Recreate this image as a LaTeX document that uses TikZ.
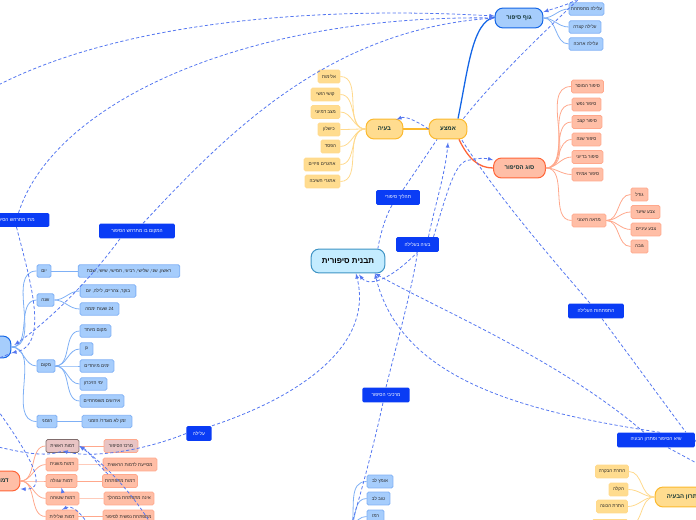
\documentclass[tikz,border=0pt]{standalone}
\usepackage{fontspec}
\usepackage{tikz}
\usetikzlibrary{positioning}
\TeXXeTstate=1
\newfontfamily\hebfont[Script=Hebrew]{Liberation Sans}
\newcommand{\heb}[1]{{\hebfont\beginR #1\endR}}
\definecolor{dashblue}{HTML}{5577F0}
\definecolor{labelblue}{HTML}{0A3CF5}
\definecolor{bluefill}{HTML}{A6CDFC}
\definecolor{blueline}{HTML}{1466E6}
\definecolor{bluesub}{HTML}{7FB0F5}
\definecolor{yelfill}{HTML}{FFDC8F}
\definecolor{yelline}{HTML}{FBB92E}
\definecolor{yelsub}{HTML}{FFD98C}
\definecolor{salfill}{HTML}{FFBEA6}
\definecolor{salline}{HTML}{FF6538}
\definecolor{salsub}{HTML}{FFA88C}
\definecolor{maufill}{HTML}{E8C4C4}
\definecolor{cenfill}{HTML}{C4ECFF}
\definecolor{cenline}{HTML}{3D93C4}
\definecolor{inkdark}{HTML}{123434}
\tikzstyle{box}=[rectangle, inner sep=0pt, font=\fontsize{4.6}{5}\selectfont, text=black!85]
\tikzstyle{main}=[box, rounded corners=8pt, line width=1pt, minimum height=20pt,
  font=\fontsize{6}{7}\selectfont\bfseries, text=inkdark]
\tikzstyle{bluesm}=[box, rounded corners=1.5pt, fill=bluefill, draw=bluesub, line width=.8pt, minimum height=12.5pt]
\tikzstyle{yelsm}=[box, rounded corners=1.5pt, fill=yelfill, draw=yelsub, line width=.8pt, minimum height=13pt]
\tikzstyle{salsm}=[box, rounded corners=1.5pt, fill=salfill, draw=salsub, line width=.8pt, minimum height=13pt]
\tikzstyle{tag}=[box, rounded corners=1.5pt, fill=labelblue, text=white, minimum height=15pt,
  font=\fontsize{4.8}{5}\selectfont]
\tikzstyle{bluelink}=[draw=bluesub, line width=.8pt]
\tikzstyle{yellink}=[draw=yelsub, line width=.8pt]
\tikzstyle{sallink}=[draw=salsub, line width=.8pt]
\tikzstyle{rel}=[draw=dashblue, line width=.8pt, dash pattern=on 3.2pt off 2.2pt]
\begin{document}
\begin{tikzpicture}[x=1bp, y=-1bp]
\useasboundingbox (0,0) rectangle (696,520);
\node[main, fill=cenfill, draw=cenline, minimum width=74pt, minimum height=24pt, font=\fontsize{8}{9}\selectfont\bfseries, text=black] (root) at (348,261){\heb{תבנית סיפורית}};
\node[main, fill=yelfill, draw=yelline, minimum width=38pt] (middle) at (448,129){\heb{אמצע}};
\node[main, fill=yelfill, draw=yelline, minimum width=37pt] (problem) at (384.5,129){\heb{בעיה}};
\node[main, fill=bluefill, draw=blueline, minimum width=48pt] (body) at (519,18){\heb{גוף סיפור}};
\node[main, fill=salfill, draw=salline, minimum width=52pt] (kind) at (519.5,168){\heb{סוג הסיפור}};
\node[main, fill=bluefill, draw=blueline, minimum width=82pt, minimum height=22pt] (setting) at (-30,347){};
\node[main, fill=salfill, draw=salline, minimum width=40pt] (chars) at (0,481){\heb{דמויות}};
\node[main, fill=yelfill, draw=yelline, minimum width=58pt] (solve) at (684,497){\heb{פתרון הבעיה}};
% labels on the dashed links
\node[tag, minimum width=44pt] (tprocess) at (398,197.5){\heb{תהליך סיפורי}};
\node[tag, minimum width=43pt] (tissue) at (417.5,244.5){\heb{בעיה בעלילה}};
\node[tag, minimum width=76pt] (twhere) at (137,231){\heb{המקום בו מתרחש הסיפור}};
\node[tag, minimum width=70pt, minimum height=14pt] (twhen) at (14.5,220){\heb{מתי מתרחש הסיפור}};
\node[tag, minimum width=25.5pt] (tplot) at (199,433.5){\heb{עלילה}};
\node[tag, minimum width=47.5pt] (tparts) at (386,395){\heb{מרכיבי הסיפור}};
\node[tag, minimum width=56pt] (tgrow) at (596,311){\heb{התפתחות העלילה}};
\node[tag, minimum width=78pt] (tpeak) at (656,440){\heb{שיא הסיפור ופתרון הבעיה}};
% story body
\node[bluesm, minimum width=35pt] (b1) at (586.5,9){\heb{עלילה מתפתחת}};
\node[bluesm, minimum width=32pt] (b2) at (585,27){\heb{עלילה קצרה}};
\node[bluesm, minimum width=34pt] (b3) at (586,44){\heb{עלילה ארוכה}};
\draw[bluelink](body.east) to[out=0,in=180] (b1.west);
\draw[bluelink](body.east) to[out=0,in=180] (b2.west);
\draw[bluelink](body.east) to[out=0,in=180] (b3.west);
% story kinds
\node[salsm, minimum width=32pt] (k1) at (587.5,86.5){\heb{סיפור המוסר}};
\node[salsm, minimum width=29pt] (k2) at (586.5,104.5){\heb{סיפור נפש}};
\node[salsm, minimum width=30pt] (k3) at (587,122){\heb{סיפור קצב}};
\node[salsm, minimum width=29pt] (k4) at (586.5,139.5){\heb{סיפור שנה}};
\node[salsm, minimum width=31pt] (k5) at (587.5,157){\heb{סיפור בדיוני}};
\node[salsm, minimum width=31pt] (k6) at (587.5,174.5){\heb{סיפור אמיתי}};
\node[salsm, minimum width=34pt] (k7) at (589,220.5){\heb{מראה חיצוני}};
\node[salsm, minimum width=17pt] (k8) at (639.5,194.5){\heb{גודל}};
\node[salsm, minimum width=29pt] (k9) at (645.5,212){\heb{צבע שיער}};
\node[salsm, minimum width=30pt] (k10) at (646,229.5){\heb{צבע עיניים}};
\node[salsm, minimum width=17pt] (k11) at (639.5,246.5){\heb{גובה}};
\draw[sallink](kind.east) to[out=0,in=180] (k1.west);
\draw[sallink](kind.east) to[out=0,in=180] (k2.west);
\draw[sallink](kind.east) to[out=0,in=180] (k3.west);
\draw[sallink](kind.east) to[out=0,in=180] (k4.west);
\draw[sallink](kind.east) to[out=0,in=180] (k5.west);
\draw[sallink](kind.east) to[out=0,in=180] (k6.west);
\draw[sallink](kind.east) to[out=0,in=180] (k7.west);
\draw[sallink](k7.east) to[out=0,in=180] (k8.west);
\draw[sallink](k7.east) to[out=0,in=180] (k9.west);
\draw[sallink](k7.east) to[out=0,in=180] (k10.west);
\draw[sallink](k7.east) to[out=0,in=180] (k11.west);
% problems
\node[yelsm, minimum width=22pt] (p1) at (329,76.5){\heb{אלימות}};
\node[yelsm, minimum width=29pt] (p2) at (325.5,94.5){\heb{קושי רגשי}};
\node[yelsm, minimum width=29pt] (p3) at (325.5,112){\heb{מצב דמיוני}};
\node[yelsm, minimum width=22pt] (p4) at (329,129.5){\heb{כישלון}};
\node[yelsm, minimum width=19pt] (p5) at (330.5,146.5){\heb{הפסד}};
\node[yelsm, minimum width=36pt] (p6) at (322,164.5){\heb{אתגרים פיזיים}};
\node[yelsm, minimum width=35pt] (p7) at (322.5,181.5){\heb{אתגרי חשיבה}};
\draw[yellink](problem.west) to[out=180,in=0] (p1.east);
\draw[yellink](problem.west) to[out=180,in=0] (p2.east);
\draw[yellink](problem.west) to[out=180,in=0] (p3.east);
\draw[yellink](problem.west) to[out=180,in=0] (p4.east);
\draw[yellink](problem.west) to[out=180,in=0] (p5.east);
\draw[yellink](problem.west) to[out=180,in=0] (p6.east);
\draw[yellink](problem.west) to[out=180,in=0] (p7.east);
% time and place
\node[bluesm, minimum width=14pt] (s1) at (44,271){\heb{יום}};
\node[bluesm, minimum width=102pt] (s2) at (129,271){\heb{ראשון, שני, שלישי, רביעי, חמישי, שישי, שבת}};
\node[bluesm, minimum width=17pt] (s3) at (45.5,300){\heb{שנה}};
\node[bluesm, minimum width=56pt] (s4) at (108,291){\heb{בוקר, צהריים, לילה, יום}};
\node[bluesm, minimum width=39pt] (s5) at (99.5,309){\heb{\beginL 24\endL{} שעות יממה}};
\node[bluesm, minimum width=18pt] (s6) at (46,366){\heb{מקום}};
\node[bluesm, minimum width=31pt] (s7) at (95.5,331){\heb{מקום מיוחד}};
\node[bluesm, minimum width=13pt] (s8) at (86.5,349){\heb{גן}};
\node[bluesm, minimum width=34pt] (s9) at (97,366){\heb{ימים מיוחדים}};
\node[bluesm, minimum width=27pt] (s10) at (93.5,384){\heb{ימי הזיכרון}};
\node[bluesm, minimum width=44pt] (s11) at (102,401){\heb{אירועים משפחתיים}};
\node[bluesm, minimum width=20pt] (s12) at (47,421.5){\heb{הזמני}};
\node[bluesm, minimum width=50pt] (s13) at (107,421.5){\heb{זמן לא מוגדר/ הזמני}};
\draw[bluelink](setting.east) to[out=0,in=180] (s1.west);
\draw[bluelink](setting.east) to[out=0,in=180] (s3.west);
\draw[bluelink](setting.east) to[out=0,in=180] (s6.west);
\draw[bluelink](setting.east) to[out=0,in=180] (s12.west);
\draw[bluelink](s1) -- (s2);
\draw[bluelink](s3.east) to[out=0,in=180] (s4.west);
\draw[bluelink](s3.east) to[out=0,in=180] (s5.west);
\draw[bluelink](s6.east) to[out=0,in=180] (s7.west);
\draw[bluelink](s6.east) to[out=0,in=180] (s8.west);
\draw[bluelink](s6.east) to[out=0,in=180] (s9.west);
\draw[bluelink](s6.east) to[out=0,in=180] (s10.west);
\draw[bluelink](s6.east) to[out=0,in=180] (s11.west);
\draw[bluelink](s12) -- (s13);
% characters
\node[salsm, fill=maufill, draw=black!45!maufill, minimum width=33pt] (c1) at (62.5,446){\heb{דמות ראשית}};
\node[salsm, fill=maufill, minimum width=34pt] (c2) at (121,446){\heb{מרכז הסיפור}};
\node[salsm, minimum width=32pt] (c3) at (62,464.5){\heb{דמות משנית}};
\node[salsm, minimum width=54pt] (c4) at (130,464.5){\heb{מסייעת לדמות הראשית}};
\node[salsm, minimum width=31pt] (c5) at (61.5,481){\heb{דמות עגולה}};
\node[salsm, minimum width=35pt] (c6) at (120,481){\heb{דמות מתפתחת}};
\node[salsm, minimum width=33pt] (c7) at (62.5,498.5){\heb{דמות שטוחה}};
\node[salsm, minimum width=50pt] (c8) at (129,498.5){\heb{אינה מתפתחת במהלך}};
\node[salsm, minimum width=32pt] (c9) at (62,516.5){\heb{דמות שלילית}};
\node[salsm, minimum width=51pt] (c10) at (128.5,516.5){\heb{מתפתחת נפשית לסיפור}};
\draw[sallink](chars.east) to[out=0,in=180] (c1.west);
\draw[sallink](chars.east) to[out=0,in=180] (c3.west);
\draw[sallink](chars.east) to[out=0,in=180] (c5.west);
\draw[sallink](chars.east) to[out=0,in=180] (c7.west);
\draw[sallink](chars.east) to[out=0,in=180] (c9.west);
\draw[sallink](c1) -- (c2);
\draw[sallink, line width=1pt, draw=salsub!60](c3) -- (c4);
\draw[sallink](c5) -- (c6);
\draw[sallink, line width=1pt, draw=salsub!60](c7) -- (c8);
\draw[sallink](c9) -- (c10);
% traits at the foot
\coordinate (traits) at (352,526);
\node[bluesm, minimum width=26pt, minimum height=13pt] (t1) at (380,481.5){\heb{אומץ לב}};
\node[bluesm, minimum width=23pt, minimum height=13pt] (t2) at (378.5,498.5){\heb{טוב לב}};
\node[bluesm, minimum width=17pt, minimum height=13pt] (t3) at (375.5,516.5){\heb{רמז}};
\draw[bluelink](traits) to[out=80,in=180] (t1.west);
\draw[bluelink](traits) to[out=70,in=180] (t2.west);
\draw[bluelink](traits) to[out=45,in=180] (t3.west);
% solution
\node[yelsm, minimum width=33pt] (f1) at (612,471.5){\heb{התרת הבקרה}};
\node[yelsm, minimum width=19pt] (f2) at (618.5,489.5){\heb{הקלה}};
\node[yelsm, minimum width=31pt] (f3) at (612,506.5){\heb{התרת הכונה}};
\node[yelsm, minimum width=36pt] (f4) at (610,526){};
\draw[yellink](solve.west) to[out=180,in=0] (f1.east);
\draw[yellink](solve.west) to[out=180,in=0] (f2.east);
\draw[yellink](solve.west) to[out=180,in=0] (f3.east);
\draw[yellink](solve.west) to[out=180,in=0] (f4.east);
% main branches
\draw[blueline, line width=1.3pt](middle.north) ++(10,0) .. controls (468,70) and (472,22) .. ([yshift=1pt]body.west);
\draw[salline, line width=1.3pt](middle.south) ++(11,0) .. controls (468,158) and (478,168) .. (kind.west);
\draw[yelline, line width=1.2pt](problem) -- (middle);
% free ends of the links
\coordinate (offtop) at (582,-4);
\coordinate (offleft) at (-20,95);
\coordinate (offlow) at (-6,446);
\coordinate (offside) at (-6,405);
\coordinate (offright) at (702,466);
\coordinate (offfoot) at (351,526);
\coordinate (offchar) at (151,524);
\coordinate (offchar2) at (88,524);
\coordinate (offedge) at (702,452);
\coordinate (offsetting) at (-10,362);
% links
\draw[rel, -latex](offleft) .. controls (100,25) and (300,5) .. ([yshift=2pt]body.west);
\draw[rel, -latex](twhen.north) ++(4,0) .. controls (55,100) and (250,15) .. (body.west);
\draw[rel, -latex](twhere.north) ++(6,0) .. controls (230,130) and (330,30) .. (body.west);
\draw[rel, -latex](twhen.south) ++(2,0) .. controls (30,280) and (50,345) .. ([yshift=-6pt]setting.east);
\draw[rel, -latex](twhere.south) ++(-17,0) .. controls (90,280) and (50,320) .. ([xshift=3pt,yshift=2pt]setting.east);
\draw[rel](offsetting) -- ([yshift=-6pt]setting.east);
\draw[rel, -latex](offtop) .. controls (570,5) and (555,8) .. ([yshift=6pt]body.east);
\draw[rel](middle.north east) ++(-4,0) .. controls (490,85) and (530,45) .. (offtop);
\draw[rel, -latex](middle.west) .. controls (415,120) and (405,116) .. ([xshift=12pt,yshift=-1pt]problem.north);
\draw[rel](tprocess.south) ++(-6,0) .. controls (386,215) and (380,235) .. ([xshift=30pt]root.north);
\draw[rel](tprocess.north) ++(5,0) -- ([xshift=-11pt]middle.south);
\draw[rel, -latex](tissue.north) ++(11,0) .. controls (435,205) and (445,175) .. ([yshift=-3pt]middle.south);
\draw[rel](tparts.north) .. controls (395,350) and (412,290) .. (tissue.south);
\draw[rel, -latex](tissue.north) ++(16,0) .. controls (448,190) and (455,160) .. (470,160) .. controls (478,158) and (485,158) .. ([yshift=8pt]kind.west);
\draw[rel, latex-](root.south) ++(11,1) .. controls (367,285) and (385,285) .. (tissue.south);
\draw[rel](tgrow.north) ++(-6,0) .. controls (555,262) and (500,200) .. ([xshift=-6pt]middle.south east);
\draw[rel](tgrow.south) ++(6,0) -- ([xshift=30pt]tpeak.north);
\draw[rel, -latex](tpeak.north) ++(-12,0) .. controls (560,360) and (440,310) .. ([xshift=27pt]root.south);
\draw[rel, -latex](tpeak.north) ++(4,0) .. controls (510,410) and (400,375) .. ([xshift=27pt]root.south);
\draw[rel](tpeak.south) ++(12,0) -- (offright);
\draw[rel](tpeak.east) -- (offedge);
\draw[rel, -latex](tplot.north east) .. controls (290,400) and (375,350) .. ([xshift=8pt]root.south);
\draw[rel, -latex](tplot.west) .. controls (140,452) and (90,458) .. ([yshift=2pt]c1.south);
\draw[rel](offlow) .. controls (20,452) and (45,458) .. ([yshift=2pt]c1.south);
\draw[rel, -latex](offside) .. controls (30,455) and (50,490) .. ([yshift=-8pt]chars.east);
\draw[rel, -latex](c6.north) ++(-12,0) .. controls (95,462) and (90,452) .. (c1.east);
\draw[rel, -latex](offchar) .. controls (130,490) and (105,465) .. (c1.east);
\draw[rel, -latex](c7.north) ++(0,0) -- (c5.south);
\draw[rel, -latex](offchar2) .. controls (80,512) and (72,505) .. (c9.north);
\draw[rel](tparts.south) ++(-3,0) .. controls (375,440) and (362,490) .. (offfoot);
\end{tikzpicture}
\end{document}
